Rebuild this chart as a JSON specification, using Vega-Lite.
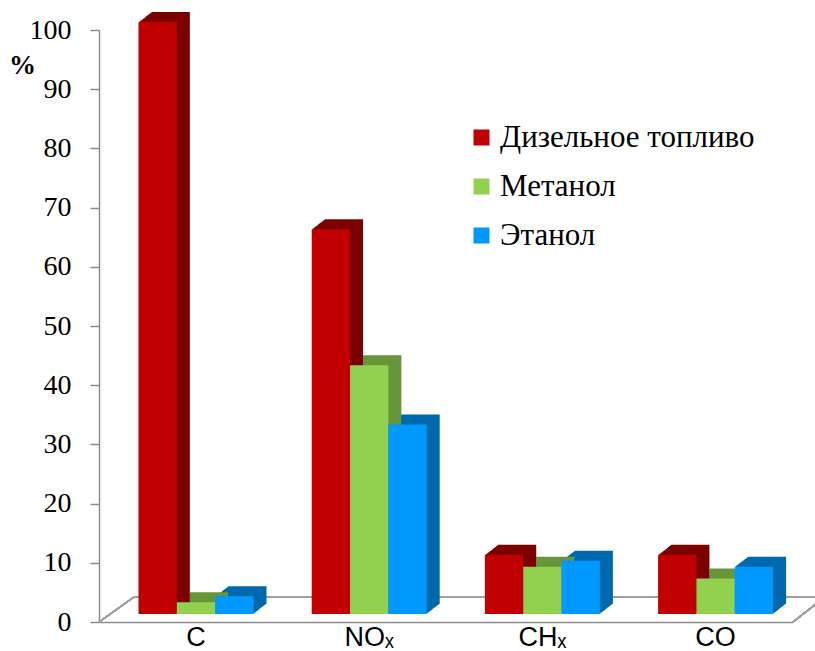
{
  "$schema": "https://vega.github.io/schema/vega-lite/v6.json",
  "width": 694,
  "height": 592,
  "autosize": {"type": "none"},
  "padding": {"left": 99, "top": 30, "right": 22, "bottom": 29},
  "background": "white",
  "config": {
    "font": "Liberation Serif",
    "view": {"stroke": null},
    "axis": {"grid": false},
    "axisY": {
      "domainColor": "#8c8c8c",
      "domainWidth": 1.5,
      "tickColor": "#8c8c8c",
      "tickWidth": 1.5,
      "tickSize": 9,
      "labelFont": "Liberation Serif",
      "labelFontSize": 28,
      "labelColor": "#000000",
      "labelPadding": 19,
      "titleAngle": 0,
      "titleX": -77,
      "titleY": 35,
      "titleAlign": "center",
      "titleBaseline": "middle",
      "titleFont": "Liberation Serif",
      "titleFontSize": 27,
      "titleFontWeight": "bold",
      "titleColor": "#000000"
    },
    "axisX": {
      "ticks": false,
      "labelAngle": 0,
      "domainColor": "#8c8c8c",
      "domainWidth": 1.5,
      "labelFont": "Liberation Sans",
      "labelFontSize": 27,
      "labelColor": "#000000",
      "labelPadding": 2
    }
  },
  "data": {
    "values": [
      {"cat": "C", "fuel": "Дизельное топливо", "value": 100},
      {"cat": "C", "fuel": "Метанол", "value": 2},
      {"cat": "C", "fuel": "Этанол", "value": 3},
      {"cat": "NOₓ", "fuel": "Дизельное топливо", "value": 65},
      {"cat": "NOₓ", "fuel": "Метанол", "value": 42},
      {"cat": "NOₓ", "fuel": "Этанол", "value": 32},
      {"cat": "CHₓ", "fuel": "Дизельное топливо", "value": 10},
      {"cat": "CHₓ", "fuel": "Метанол", "value": 8},
      {"cat": "CHₓ", "fuel": "Этанол", "value": 9},
      {"cat": "CO", "fuel": "Дизельное топливо", "value": 10},
      {"cat": "CO", "fuel": "Метанол", "value": 6},
      {"cat": "CO", "fuel": "Этанол", "value": 8}
    ]
  },
  "encoding": {
    "y": {
      "field": "value",
      "type": "quantitative",
      "scale": {"domain": [0, 100], "nice": false},
      "axis": {
        "values": [0, 10, 20, 30, 40, 50, 60, 70, 80, 90, 100],
        "title": "%",
        "labelFont": "Liberation Serif",
        "labelFontSize": 28,
        "titleFont": "Liberation Serif",
        "titleFontSize": 27
      }
    }
  },
  "layer": [
    {
      "encoding": {
        "x": {"datum": 0, "type": "quantitative", "scale": {"domain": [0, 1], "nice": false}, "axis": null},
        "x2": {"datum": 1},
        "y": {"datum": 0, "type": "quantitative"}
      },
      "mark": {"type": "rule", "color": "#a0a0a0", "strokeWidth": 1.5, "xOffset": 35, "x2Offset": 35, "yOffset": -25}
    },
    {
      "encoding": {
        "x": {"datum": 0, "type": "quantitative", "scale": {"domain": [0, 1], "nice": false}, "axis": null},
        "x2": {"datum": 0},
        "y": {"datum": 0, "type": "quantitative"},
        "y2": {"datum": 0}
      },
      "mark": {"type": "rule", "color": "#a0a0a0", "strokeWidth": 1.5, "x2Offset": 35, "y2Offset": -25}
    },
    {
      "encoding": {
        "x": {"datum": 1, "type": "quantitative", "scale": {"domain": [0, 1], "nice": false}, "axis": null},
        "x2": {"datum": 1},
        "y": {"datum": 0, "type": "quantitative"},
        "y2": {"datum": 0}
      },
      "mark": {"type": "rule", "color": "#a0a0a0", "strokeWidth": 1.5, "x2Offset": 32, "y2Offset": -25}
    },
    {
      "encoding": {
        "x": {
          "field": "cat",
          "type": "nominal",
          "sort": ["C", "NOₓ", "CHₓ", "CO"],
          "scale": {"paddingInner": 0.336, "paddingOuter": 0.1715, "align": 0.665},
          "axis": {"title": null, "labelFont": "Liberation Sans", "labelFontSize": 27}
        }
      },
      "resolve": {"scale": {"xOffset": "independent"}},
      "layer": [
        {"mark": {"type": "bar", "yOffset": -8.8, "y2Offset": -8.8}, "encoding": {"xOffset": {"field": "fuel", "sort": ["Дизельное топливо", "Метанол", "Этанол"], "scale": {"range": [1, 116]}}, "fill": {"field": "fuel", "sort": ["Дизельное топливо", "Метанол", "Этанол"], "scale": {"range": ["#7c0000", "#66953a", "#0068ad"]}, "legend": null}}},
        {"mark": {"type": "bar", "yOffset": -9.5, "y2Offset": -9.5}, "encoding": {"xOffset": {"field": "fuel", "sort": ["Дизельное топливо", "Метанол", "Этанол"], "scale": {"range": [2, 117]}}, "fill": {"field": "fuel", "sort": ["Дизельное топливо", "Метанол", "Этанол"], "legend": null}}},
        {"mark": {"type": "bar", "yOffset": -10.3, "y2Offset": -10.3}, "encoding": {"xOffset": {"field": "fuel", "sort": ["Дизельное топливо", "Метанол", "Этанол"], "scale": {"range": [3, 118]}}, "fill": {"field": "fuel", "sort": ["Дизельное топливо", "Метанол", "Этанол"], "legend": null}}},
        {"mark": {"type": "bar", "yOffset": -11.1, "y2Offset": -11.1}, "encoding": {"xOffset": {"field": "fuel", "sort": ["Дизельное топливо", "Метанол", "Этанол"], "scale": {"range": [4, 119]}}, "fill": {"field": "fuel", "sort": ["Дизельное топливо", "Метанол", "Этанол"], "legend": null}}},
        {"mark": {"type": "bar", "yOffset": -11.8, "y2Offset": -11.8}, "encoding": {"xOffset": {"field": "fuel", "sort": ["Дизельное топливо", "Метанол", "Этанол"], "scale": {"range": [5, 120]}}, "fill": {"field": "fuel", "sort": ["Дизельное топливо", "Метанол", "Этанол"], "legend": null}}},
        {"mark": {"type": "bar", "yOffset": -12.6, "y2Offset": -12.6}, "encoding": {"xOffset": {"field": "fuel", "sort": ["Дизельное топливо", "Метанол", "Этанол"], "scale": {"range": [6, 121]}}, "fill": {"field": "fuel", "sort": ["Дизельное топливо", "Метанол", "Этанол"], "legend": null}}},
        {"mark": {"type": "bar", "yOffset": -13.4, "y2Offset": -13.4}, "encoding": {"xOffset": {"field": "fuel", "sort": ["Дизельное топливо", "Метанол", "Этанол"], "scale": {"range": [7, 122]}}, "fill": {"field": "fuel", "sort": ["Дизельное топливо", "Метанол", "Этанол"], "legend": null}}},
        {"mark": {"type": "bar", "yOffset": -14.2, "y2Offset": -14.2}, "encoding": {"xOffset": {"field": "fuel", "sort": ["Дизельное топливо", "Метанол", "Этанол"], "scale": {"range": [8, 123]}}, "fill": {"field": "fuel", "sort": ["Дизельное топливо", "Метанол", "Этанол"], "legend": null}}},
        {"mark": {"type": "bar", "yOffset": -14.9, "y2Offset": -14.9}, "encoding": {"xOffset": {"field": "fuel", "sort": ["Дизельное топливо", "Метанол", "Этанол"], "scale": {"range": [9, 124]}}, "fill": {"field": "fuel", "sort": ["Дизельное топливо", "Метанол", "Этанол"], "legend": null}}},
        {"mark": {"type": "bar", "yOffset": -15.7, "y2Offset": -15.7}, "encoding": {"xOffset": {"field": "fuel", "sort": ["Дизельное топливо", "Метанол", "Этанол"], "scale": {"range": [10, 125]}}, "fill": {"field": "fuel", "sort": ["Дизельное топливо", "Метанол", "Этанол"], "legend": null}}},
        {"mark": {"type": "bar", "yOffset": -16.5, "y2Offset": -16.5}, "encoding": {"xOffset": {"field": "fuel", "sort": ["Дизельное топливо", "Метанол", "Этанол"], "scale": {"range": [11, 126]}}, "fill": {"field": "fuel", "sort": ["Дизельное топливо", "Метанол", "Этанол"], "legend": null}}},
        {"mark": {"type": "bar", "yOffset": -17.2, "y2Offset": -17.2}, "encoding": {"xOffset": {"field": "fuel", "sort": ["Дизельное топливо", "Метанол", "Этанол"], "scale": {"range": [12, 127]}}, "fill": {"field": "fuel", "sort": ["Дизельное топливо", "Метанол", "Этанол"], "legend": null}}},
        {"mark": {"type": "bar", "yOffset": -18, "y2Offset": -18}, "encoding": {"xOffset": {"field": "fuel", "sort": ["Дизельное топливо", "Метанол", "Этанол"], "scale": {"range": [13, 128]}}, "fill": {"field": "fuel", "sort": ["Дизельное топливо", "Метанол", "Этанол"], "legend": null}}},
        {
          "mark": {"type": "bar", "yOffset": -8, "y2Offset": -8},
          "encoding": {
            "xOffset": {"field": "fuel", "sort": ["Дизельное топливо", "Метанол", "Этанол"], "scale": {"range": [0, 115]}},
            "color": {
              "field": "fuel",
              "type": "nominal",
              "sort": ["Дизельное топливо", "Метанол", "Этанол"],
              "scale": {"range": ["#c00000", "#92d050", "#0099ff"]},
              "legend": {
                "title": null,
                "orient": "none",
                "legendX": 367,
                "legendY": 92,
                "symbolType": "square",
                "symbolSize": 256,
                "symbolStrokeWidth": 0,
                "labelFont": "Liberation Serif",
                "labelFontSize": 31,
                "labelColor": "#000000",
                "labelOffset": 3,
                "labelLimit": 0,
                "rowPadding": 17,
                "padding": 0
              }
            }
          }
        }
      ]
    }
  ],
  "resolve": {"scale": {"x": "independent"}}
}
